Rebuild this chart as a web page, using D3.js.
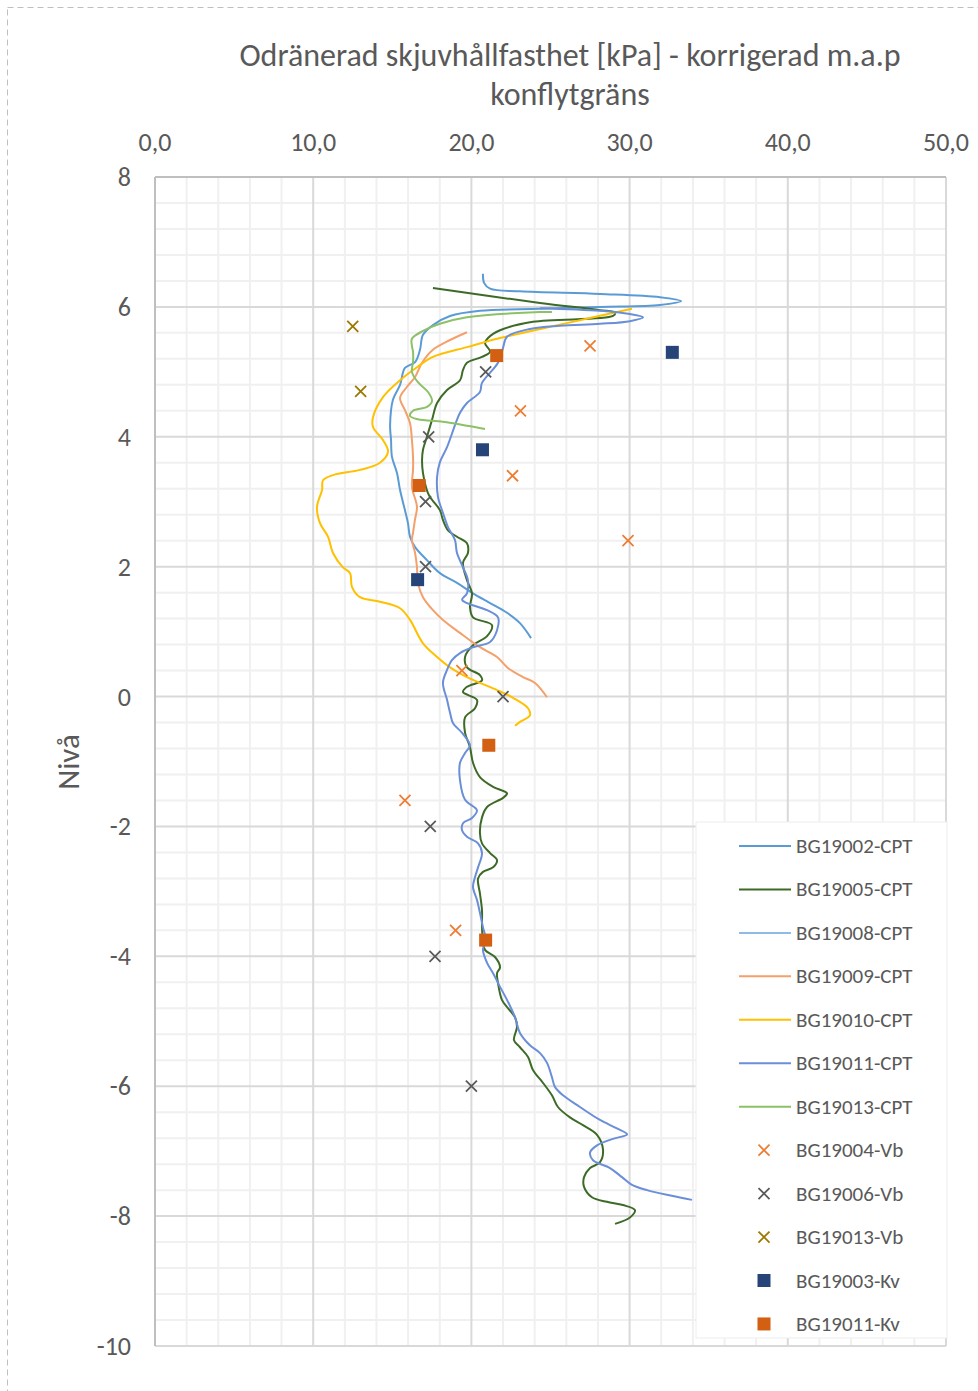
<!DOCTYPE html>
<html lang="sv">
<head>
<meta charset="UTF-8">
<title>Odränerad skjuvhållfasthet</title>
<script src="https://d3js.org/d3.v7.min.js"></script>
<style>
    body { margin: 0; background: #fff; font-family: Carlito, Calibri, 'Open Sans', sans-serif; }
    svg { display: block; }
    .tick-label { fill: #595959; font-size: 26px; }
    .legend-label { fill: #595959; font-size: 21px; }
</style>
</head>
<body>
<script>
// CPT series: [kPa, nivå]
const bg19002cpt = [[20.73,6.51],[20.80,6.37],[21.18,6.28],[23.07,6.24],[28.13,6.20],[31.92,6.15],[33.25,6.09],[31.92,6.03],[28.13,6.00],[24.34,5.97],[20.54,5.94],[18.65,5.86],[17.57,5.72],[16.94,5.57],[16.75,5.34],[16.44,5.15],[15.80,5.06],[15.49,4.80],[15.04,4.57],[14.86,4.18],[14.92,3.95],[14.98,3.69],[15.30,3.44],[15.49,3.18],[15.80,2.87],[15.99,2.67],[16.12,2.46],[16.44,2.30],[17.19,2.10],[18.01,1.90],[19.09,1.75],[20.10,1.59],[21.18,1.44],[22.25,1.29],[23.07,1.13],[23.77,0.90]];
const bg19005cpt = [[17.57,6.29],[24.34,6.06],[28.13,5.95],[29.08,5.91],[28.95,5.86],[23.89,5.77],[21.81,5.64],[21.05,5.52],[20.86,5.44],[21.18,5.31],[20.67,5.23],[19.72,5.14],[19.47,5.03],[19.28,4.87],[18.46,4.72],[17.83,4.52],[17.51,4.26],[17.19,4.00],[16.94,3.80],[16.88,3.64],[16.94,3.44],[17.26,3.13],[17.51,3.03],[18.01,2.87],[18.20,2.72],[18.52,2.56],[19.09,2.46],[19.72,2.36],[19.78,2.21],[19.47,2.06],[19.72,1.79],[20.04,1.59],[19.91,1.38],[20.10,1.22],[21.30,1.10],[20.99,0.93],[20.10,0.79],[19.60,0.61],[19.72,0.45],[20.54,0.33],[20.67,0.25],[19.72,0.15],[19.47,0.07],[20.35,-0.05],[20.23,-0.18],[19.60,-0.32],[19.60,-0.56],[19.91,-0.78],[20.10,-1.02],[20.54,-1.24],[21.37,-1.39],[22.25,-1.49],[22.00,-1.56],[20.99,-1.70],[20.67,-1.86],[20.54,-2.10],[20.67,-2.26],[21.18,-2.41],[21.62,-2.52],[21.37,-2.63],[20.73,-2.70],[20.42,-2.80],[20.54,-3.03],[20.67,-3.29],[20.67,-3.55],[20.73,-3.75],[20.86,-3.90],[21.49,-4.01],[21.81,-4.17],[21.62,-4.26],[21.68,-4.41],[21.93,-4.67],[22.25,-4.78],[22.76,-4.94],[22.88,-5.09],[22.69,-5.29],[23.07,-5.40],[23.58,-5.55],[23.89,-5.75],[24.53,-5.95],[25.09,-6.14],[25.47,-6.32],[26.23,-6.48],[27.05,-6.60],[27.94,-6.75],[28.32,-6.98],[28.13,-7.17],[27.50,-7.26],[27.12,-7.40],[27.12,-7.55],[27.62,-7.71],[28.57,-7.78],[29.58,-7.83],[30.34,-7.91],[30.02,-8.02],[29.08,-8.12]];
const bg19008cpt = [];
const bg19009cpt = [[19.72,5.61],[18.65,5.49],[17.57,5.34],[16.88,5.14],[16.44,4.92],[15.93,4.77],[15.49,4.60],[15.80,4.41],[16.12,4.21],[16.24,3.95],[16.31,3.69],[16.31,3.49],[16.24,3.23],[16.56,2.92],[16.43,2.72],[16.31,2.52],[16.24,2.41],[16.44,2.21],[16.56,1.99],[16.62,1.75],[16.94,1.53],[17.57,1.33],[18.20,1.18],[19.28,0.98],[20.54,0.76],[21.62,0.61],[22.31,0.44],[23.26,0.30],[24.02,0.21],[24.78,-0.01]];
const bg19010cpt = [[30.15,5.97],[26.04,5.75],[21.81,5.52],[19.72,5.38],[17.57,5.23],[16.56,5.07],[15.49,4.87],[14.41,4.61],[13.78,4.30],[13.78,4.15],[14.41,3.95],[14.73,3.77],[14.22,3.60],[12.96,3.49],[11.25,3.41],[10.62,3.33],[10.56,3.18],[10.24,2.92],[10.43,2.67],[10.94,2.46],[11.25,2.21],[11.88,1.99],[12.33,1.90],[12.45,1.69],[12.96,1.53],[14.22,1.46],[15.49,1.36],[16.12,1.18],[16.94,0.82],[17.83,0.61],[18.65,0.45],[19.72,0.30],[20.54,0.21],[21.62,0.10],[22.63,-0.02],[23.58,-0.18],[23.70,-0.29],[23.07,-0.39],[22.76,-0.45]];
const bg19011cpt = [[24.34,5.98],[28.13,5.94],[30.02,5.89],[30.85,5.84],[30.02,5.78],[28.13,5.74],[25.60,5.71],[23.70,5.66],[22.25,5.54],[22.00,5.37],[21.68,5.14],[20.67,4.83],[20.54,4.69],[19.72,4.52],[19.28,4.37],[18.46,3.84],[18.01,3.61],[17.83,3.38],[17.89,3.07],[18.20,2.83],[18.52,2.61],[18.96,2.41],[19.09,2.21],[19.47,1.99],[19.78,1.79],[19.72,1.59],[19.41,1.49],[19.72,1.44],[20.99,1.33],[21.68,1.22],[21.62,1.02],[21.18,0.84],[20.10,0.76],[19.28,0.67],[18.77,0.56],[18.46,0.41],[18.20,0.21],[18.46,-0.05],[18.65,-0.25],[18.84,-0.41],[19.41,-0.56],[19.91,-0.75],[19.60,-0.87],[19.28,-1.02],[19.28,-1.29],[19.60,-1.59],[20.35,-1.75],[20.04,-1.87],[19.47,-1.95],[19.41,-2.06],[19.72,-2.16],[20.42,-2.26],[20.67,-2.41],[20.42,-2.63],[20.23,-2.78],[20.10,-2.93],[20.35,-3.13],[20.54,-3.33],[20.73,-3.55],[20.92,-3.75],[20.73,-3.90],[20.99,-4.10],[21.37,-4.26],[21.81,-4.47],[22.25,-4.67],[22.76,-4.94],[23.07,-5.18],[23.70,-5.37],[24.34,-5.49],[24.78,-5.64],[25.09,-5.86],[25.28,-6.01],[25.79,-6.14],[26.86,-6.32],[28.13,-6.52],[29.20,-6.65],[29.84,-6.74],[28.95,-6.81],[27.94,-6.91],[27.50,-7.02],[27.69,-7.14],[28.76,-7.26],[29.52,-7.40],[30.15,-7.52],[31.10,-7.60],[32.74,-7.69],[33.94,-7.75]];
const bg19013cpt = [[25.09,5.92],[24.34,5.92],[19.72,5.84],[18.01,5.74],[16.94,5.63],[16.24,5.51],[16.24,5.40],[16.31,5.31],[16.31,5.15],[16.24,5.00],[16.62,4.84],[17.26,4.69],[17.51,4.55],[17.19,4.46],[16.31,4.40],[16.12,4.32],[16.62,4.27],[18.20,4.23],[19.72,4.17],[20.86,4.12]];

// Vingförsök och kolvprov: [kPa, nivå]
const bg19004vb = [[27.5,5.4],[23.1,4.4],[22.6,3.4],[29.9,2.4],[19.4,0.4],[15.8,-1.6],[19.0,-3.6]];
const bg19006vb = [[20.9,5.0],[17.3,4.0],[17.1,3.0],[17.1,2.0],[22.0,0.0],[17.4,-2.0],[17.7,-4.0],[20.0,-6.0]];
const bg19013vb = [[12.5,5.7],[13.0,4.7]];
const bg19003kv = [[32.7,5.3],[20.7,3.8],[16.6,1.8]];
const bg19011kv = [[21.6,5.25],[16.7,3.25],[21.1,-0.75],[20.9,-3.75]];

const xTicks = [0, 10, 20, 30, 40, 50];
const yTicks = [8, 6, 4, 2, 0, -2, -4, -6, -8, -10];

const lineSeries = [
    { name: "BG19002-CPT", data: bg19002cpt, color: "#5B9BD5" },
    { name: "BG19005-CPT", data: bg19005cpt, color: "#3D6B27" },
    { name: "BG19008-CPT", data: bg19008cpt, color: "#8FBCE6" },
    { name: "BG19009-CPT", data: bg19009cpt, color: "#F4A06B" },
    { name: "BG19010-CPT", data: bg19010cpt, color: "#FFC000" },
    { name: "BG19011-CPT", data: bg19011cpt, color: "#6A8FD8" },
    { name: "BG19013-CPT", data: bg19013cpt, color: "#8CC168" }
];
const pointSeries = [
    { name: "BG19004-Vb", data: bg19004vb, color: "#ED7D31", shape: "x" },
    { name: "BG19006-Vb", data: bg19006vb, color: "#595959", shape: "x" },
    { name: "BG19013-Vb", data: bg19013vb, color: "#9C7800", shape: "x" },
    { name: "BG19003-Kv", data: bg19003kv, color: "#264478", shape: "sq" },
    { name: "BG19011-Kv", data: bg19011kv, color: "#D35F12", shape: "sq" }
];

const W = 978, H = 1391;
const pLeft = 155, pRight = 946, pTop = 177, pBottom = 1346;

const svg = d3.select("body").append("svg").attr("width", W).attr("height", H);

// outer chart border (dashed, runs off the right and bottom edge)
svg.append("rect")
    .attr("x", 7.5).attr("y", 7.5).attr("width", W + 10).attr("height", H + 10)
    .attr("fill", "none").attr("stroke", "#BFBFBF").attr("stroke-dasharray", "6,4");

const x = d3.scaleLinear().domain([0, 50]).range([pLeft, pRight]);
const y = d3.scaleLinear().domain([-10, 8]).range([pBottom, pTop]);

// grid
const grid = svg.append("g");
grid.selectAll(".vminor").data(d3.range(0, 51, 2).filter(v => v % 10 !== 0))
    .enter().append("line")
    .attr("x1", d => x(d)).attr("x2", d => x(d)).attr("y1", pTop).attr("y2", pBottom)
    .attr("stroke", "#F0F0F0").attr("stroke-width", 2);
grid.selectAll(".hminor").data(d3.range(0, 46).map(i => -10 + i * 0.4).filter(v => Math.abs(v / 2 - Math.round(v / 2)) > 0.01))
    .enter().append("line")
    .attr("y1", d => y(d)).attr("y2", d => y(d)).attr("x1", pLeft).attr("x2", pRight)
    .attr("stroke", "#F0F0F0").attr("stroke-width", 2);
grid.selectAll(".vmajor").data(xTicks)
    .enter().append("line")
    .attr("x1", d => x(d)).attr("x2", d => x(d)).attr("y1", pTop).attr("y2", pBottom)
    .attr("stroke", "#D9D9D9").attr("stroke-width", 2);
grid.selectAll(".hmajor").data(yTicks)
    .enter().append("line")
    .attr("y1", d => y(d)).attr("y2", d => y(d)).attr("x1", pLeft).attr("x2", pRight)
    .attr("stroke", "#D9D9D9").attr("stroke-width", 2);
grid.append("line").attr("x1", pLeft).attr("x2", pLeft).attr("y1", pTop).attr("y2", pBottom)
    .attr("stroke", "#BFBFBF").attr("stroke-width", 2);
grid.append("line").attr("x1", pLeft).attr("x2", pRight).attr("y1", pTop).attr("y2", pTop)
    .attr("stroke", "#BFBFBF").attr("stroke-width", 2);

// axes labels
svg.append("g").selectAll("text").data(xTicks).enter().append("text")
    .attr("class", "tick-label")
    .attr("x", d => x(d)).attr("y", 151)
    .attr("text-anchor", "middle")
    .text(d => d.toFixed(1).replace(".", ","));
svg.append("g").selectAll("text").data(yTicks).enter().append("text")
    .attr("class", "tick-label")
    .attr("x", 131).attr("y", d => y(d) + 9)
    .attr("text-anchor", "end")
    .text(d => d);

svg.append("text")
    .attr("transform", "translate(79,762) rotate(-90)")
    .attr("text-anchor", "middle")
    .attr("fill", "#595959").attr("font-size", 31)
    .text("Nivå");

// title
const title = svg.append("text").attr("text-anchor", "middle").attr("fill", "#595959").attr("font-size", 32);
title.append("tspan").attr("x", 570).attr("y", 66).text("Odränerad skjuvhållfasthet [kPa] - korrigerad m.a.p");
title.append("tspan").attr("x", 570).attr("y", 105).text("konflytgräns");

// series
const line = d3.line().x(d => x(d[0])).y(d => y(d[1])).curve(d3.curveCatmullRom.alpha(0.5));
const plot = svg.append("g");
lineSeries.forEach(s => {
    if (!s.data.length) return;
    plot.append("path").datum(s.data)
        .attr("d", line).attr("fill", "none")
        .attr("stroke", s.color).attr("stroke-width", 2);
});

function drawMarker(g, s, cx, cy) {
    if (s.shape === "x") {
        const r = 5.5;
        g.append("path")
            .attr("d", `M${cx - r},${cy - r}L${cx + r},${cy + r}M${cx - r},${cy + r}L${cx + r},${cy - r}`)
            .attr("stroke", s.color).attr("stroke-width", 1.8).attr("fill", "none");
    } else {
        const r = 6.5;
        g.append("rect").attr("x", cx - r).attr("y", cy - r).attr("width", 2 * r).attr("height", 2 * r)
            .attr("fill", s.color);
    }
}
pointSeries.forEach(s => {
    s.data.forEach(d => drawMarker(plot, s, x(d[0]), y(d[1])));
});

// legend
const legend = svg.append("g");
legend.append("rect").attr("x", 696).attr("y", 822).attr("width", 251).attr("height", 516)
    .attr("fill", "#fff").attr("stroke", "#EDEDED");
const allSeries = lineSeries.concat(pointSeries);
allSeries.forEach((s, i) => {
    const ly = 846 + i * 43.45;
    if (s.shape) {
        drawMarker(legend, s, 764, ly);
    } else {
        legend.append("line").attr("x1", 739).attr("x2", 791).attr("y1", ly).attr("y2", ly)
            .attr("stroke", s.color).attr("stroke-width", 2);
    }
    legend.append("text").attr("class", "legend-label")
        .attr("x", 796).attr("y", ly + 7).text(s.name);
});
</script>
</body>
</html>
